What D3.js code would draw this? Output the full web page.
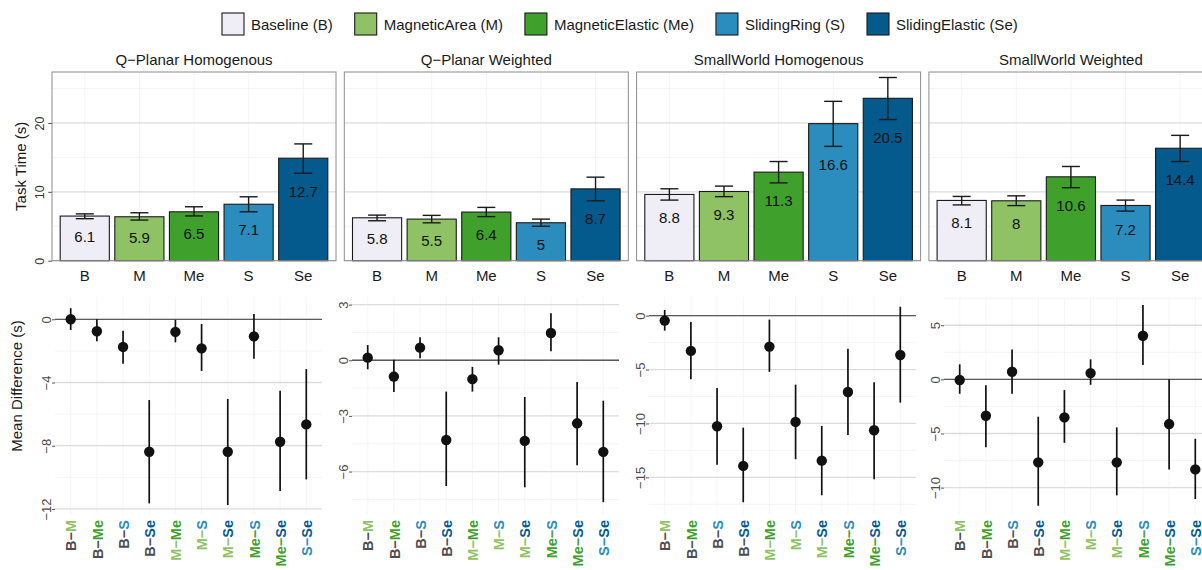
<!DOCTYPE html>
<html>
<head>
<meta charset="utf-8">
<script src="https://cdn.jsdelivr.net/npm/d3@7"></script>
<style>
  html, body { margin: 0; padding: 0; background: #fff; }
  svg { display: block; font-family: "Liberation Sans", Arial, Helvetica, sans-serif; }
</style>
</head>
<body>
<svg id="chart" width="1202" height="570"></svg>
<script>
// ---------------- DATA ----------------
const conditions = ["B", "M", "Me", "S", "Se"];
const conditionNames = ["Baseline (B)", "MagneticArea (M)", "MagneticElastic (Me)", "SlidingRing (S)", "SlidingElastic (Se)"];
const datasets = ["Q\u2212Planar Homogenous", "Q\u2212Planar Weighted", "SmallWorld Homogenous", "SmallWorld Weighted"];

// task time: mean (bar), lower CI (label), upper CI
const timeMean = [
  [6.48, 6.38, 7.10, 8.20, 14.88],
  [6.23, 6.04, 7.06, 5.51, 10.43],
  [9.62, 10.05, 12.86, 19.90, 23.58],
  [8.75, 8.70, 12.18, 8.02, 16.33]
];
const timeLow = [
  [6.1, 5.9, 6.5, 7.1, 12.7],
  [5.8, 5.5, 6.4, 5.0, 8.7],
  [8.8, 9.3, 11.3, 16.6, 20.5],
  [8.1, 8.0, 10.6, 7.2, 14.4]
];
const timeHigh = [
  [6.80, 6.96, 7.83, 9.28, 16.96],
  [6.62, 6.58, 7.74, 6.04, 12.13],
  [10.44, 10.83, 14.40, 23.14, 26.60],
  [9.33, 9.42, 13.68, 8.80, 18.20]
];
const timeTicks = [0, 10, 20];
const timeDomain = [0, 27.4];

// pairwise mean differences
const pairs = [["B","M"],["B","Me"],["B","S"],["B","Se"],["M","Me"],["M","S"],["M","Se"],["Me","S"],["Me","Se"],["S","Se"]];
const diffMean = [
  [0.00, -0.76, -1.75, -8.38, -0.80, -1.84, -8.38, -1.08, -7.75, -6.65],
  [0.14, -0.88, 0.68, -4.30, -1.02, 0.54, -4.35, 1.47, -3.40, -4.94],
  [-0.46, -3.27, -10.26, -13.94, -2.87, -9.86, -13.45, -7.08, -10.63, -3.65],
  [-0.06, -3.36, 0.70, -7.67, -3.51, 0.58, -7.67, 4.03, -4.13, -8.32]
];
const diffLow = [
  [-0.68, -1.39, -2.81, -11.65, -1.46, -3.27, -11.75, -2.49, -10.87, -10.13],
  [-0.49, -1.71, 0.11, -6.78, -1.69, -0.24, -6.85, 0.48, -5.66, -7.65],
  [-1.39, -5.90, -13.82, -17.31, -5.22, -13.32, -16.66, -11.07, -15.18, -8.07],
  [-1.33, -6.28, -1.33, -11.68, -5.86, -0.50, -10.72, 1.32, -8.32, -11.06]
];
const diffHigh = [
  [0.70, 0.00, -0.72, -5.11, -0.04, -0.30, -5.04, 0.34, -4.52, -3.15],
  [0.82, 0.02, 1.24, -1.69, -0.36, 1.24, -1.98, 2.53, -1.17, -2.18],
  [0.53, -0.58, -6.71, -10.39, -0.37, -6.40, -10.23, -3.06, -6.18, 0.83],
  [1.39, -0.55, 2.77, -3.45, -0.99, 1.85, -4.44, 6.87, 0.00, -5.49]
];
const diffTicks = [[0, -4, -8, -12], [3, 0, -3, -6], [0, -5, -10, -15], [5, 0, -5, -10]];
const diffDomains = [[-12.32, 1.41], [-8.29, 3.41], [-18.4, 1.73], [-12.44, 7.61]];

// ---------------- STYLE ----------------
const palette = ["#efedf5", "#8fc265", "#3fa12b", "#2b8cbe", "#045a8d"];
const labelPalette = ["#4d4d4d", "#8fc265", "#3fa12b", "#2b8cbe", "#045a8d"];
const colorOf = c => palette[conditions.indexOf(c)];
const labelColorOf = c => labelPalette[conditions.indexOf(c)];
const fmtNum = v => (v < 0 ? "\u2212" : "") + String(Math.abs(v));
const fmtLabel = v => String(+v.toFixed(1));

const svg = d3.select("#chart");

// ---------------- LEGEND ----------------
const legend = svg.append("g");
let lx = 222;
conditionNames.forEach((name, i) => {
  legend.append("rect").attr("x", lx).attr("y", 13).attr("width", 22).attr("height", 22)
    .attr("fill", palette[i]).attr("stroke", "#1a1a1a").attr("stroke-width", 1.1);
  const t = legend.append("text").attr("x", lx + 29).attr("y", 29.5).attr("font-size", 15)
    .attr("fill", "#1a1a1a").text(name);
  lx += 29 + t.node().getComputedTextLength() + 22;
});

// ---------------- TOP ROW: task time ----------------
const topY0 = 260.7, topY1 = 72, topW = 284, topStep = 292.3, topLeft0 = 52;
datasets.forEach((ds, p) => {
  const left = topLeft0 + p * topStep, right = left + topW;
  const g = svg.append("g");
  const x = d3.scaleBand().domain(conditions).range([left, right]).paddingInner(0.1).paddingOuter(0.15);
  const y = d3.scaleLinear().domain(timeDomain).range([topY0, topY1]);

  // grid
  const minor = [5, 15, 25];
  g.selectAll(".vminor").data(conditions).join("line")
    .attr("x1", d => x(d) + x.bandwidth() / 2).attr("x2", d => x(d) + x.bandwidth() / 2)
    .attr("y1", topY1).attr("y2", topY0).attr("stroke", "#f1f1f1").attr("stroke-width", 0.8);
  g.selectAll(".hminor").data(minor.filter(v => v <= timeDomain[1])).join("line")
    .attr("x1", left).attr("x2", right).attr("y1", d => y(d)).attr("y2", d => y(d))
    .attr("stroke", "#f1f1f1").attr("stroke-width", 0.8);
  g.selectAll(".hmajor").data(timeTicks).join("line")
    .attr("x1", left).attr("x2", right).attr("y1", d => y(d)).attr("y2", d => y(d))
    .attr("stroke", "#dcdcdc").attr("stroke-width", 1.3);

  // bars
  const rows = conditions.map((c, i) => ({ c, mean: timeMean[p][i], lo: timeLow[p][i], hi: timeHigh[p][i] }));
  g.selectAll(".bar").data(rows).join("rect")
    .attr("x", d => x(d.c)).attr("width", x.bandwidth())
    .attr("y", d => y(d.mean)).attr("height", d => y(0) - y(d.mean))
    .attr("fill", d => colorOf(d.c)).attr("stroke", "#1a1a1a").attr("stroke-width", 1.1);

  // error bars
  const cap = x.step() * 0.33;
  rows.forEach(d => {
    const cx = x(d.c) + x.bandwidth() / 2;
    g.append("line").attr("x1", cx).attr("x2", cx).attr("y1", y(d.hi)).attr("y2", y(d.lo))
      .attr("stroke", "#1a1a1a").attr("stroke-width", 1.4);
    [d.hi, d.lo].forEach(v => g.append("line").attr("x1", cx - cap / 2).attr("x2", cx + cap / 2)
      .attr("y1", y(v)).attr("y2", y(v)).attr("stroke", "#1a1a1a").attr("stroke-width", 1.4));
  });

  // labels
  g.selectAll(".lab").data(rows).join("text")
    .attr("x", d => x(d.c) + x.bandwidth() / 2).attr("y", d => y(d.lo) + 23.4)
    .attr("text-anchor", "middle").attr("font-size", 15).attr("fill", "#111")
    .text(d => fmtLabel(d.lo));

  // border
  g.append("rect").attr("x", left).attr("y", topY1).attr("width", topW).attr("height", topY0 - topY1)
    .attr("fill", "none").attr("stroke", "#8c8c8c").attr("stroke-width", 1);

  // title
  g.append("text").attr("x", (left + right) / 2).attr("y", 64.5).attr("text-anchor", "middle")
    .attr("font-size", 15).attr("fill", "#1a1a1a").text(ds);

  // x axis
  const xa = g.append("g").attr("transform", `translate(0,${topY0})`)
    .call(d3.axisBottom(x).tickSize(0).tickPadding(0));
  xa.select(".domain").remove();
  xa.selectAll("text").attr("y", 0).attr("dy", 0).attr("transform", "translate(0,20.5)")
    .attr("font-size", 15).attr("fill", "#1a1a1a").attr("font-family", null);

  // y axis (first panel only)
  if (p === 0) {
    const ya = g.append("g").attr("transform", `translate(${left},0)`)
      .call(d3.axisLeft(y).tickValues(timeTicks).tickSize(3.8).tickFormat(fmtNum));
    ya.select(".domain").remove();
    ya.selectAll("line").attr("stroke", "#555").attr("stroke-width", 1);
    ya.selectAll("text").attr("transform", "rotate(-90)").attr("x", 0).attr("y", -8.5).attr("dy", 0)
      .attr("text-anchor", "middle").attr("font-size", 12.5).attr("fill", "#333").attr("font-family", null);
    g.append("text").attr("transform", `translate(26,${(topY0 + topY1) / 2}) rotate(-90)`)
      .attr("text-anchor", "middle").attr("font-size", 15).attr("fill", "#1a1a1a").text("Task Time (s)");
  }
});

// ---------------- BOTTOM ROW: mean differences ----------------
const botY0 = 514, botY1 = 297, botLefts = [55, 352, 649, 944], botW = 267;
datasets.forEach((ds, p) => {
  const left = botLefts[p], right = left + botW;
  const g = svg.append("g");
  const keys = pairs.map(d => d.join("-"));
  const x = d3.scalePoint().domain(keys).range([left, right]).padding(0.6);
  const y = d3.scaleLinear().domain(diffDomains[p]).range([botY0, botY1]);
  const ticks = diffTicks[p];
  const stepT = Math.abs(ticks[1] - ticks[0]);
  const tmin = d3.min(ticks), tmax = d3.max(ticks);
  const minor = d3.range(tmin - stepT / 2, tmax + stepT, stepT)
    .filter(v => v >= diffDomains[p][0] && v <= diffDomains[p][1]);

  g.selectAll(".vminor").data(keys).join("line")
    .attr("x1", d => x(d)).attr("x2", d => x(d)).attr("y1", botY1).attr("y2", botY0)
    .attr("stroke", "#f1f1f1").attr("stroke-width", 0.8);
  g.selectAll(".hminor").data(minor).join("line")
    .attr("x1", left).attr("x2", right).attr("y1", d => y(d)).attr("y2", d => y(d))
    .attr("stroke", "#f1f1f1").attr("stroke-width", 0.8);
  g.selectAll(".hmajor").data(ticks).join("line")
    .attr("x1", left).attr("x2", right).attr("y1", d => y(d)).attr("y2", d => y(d))
    .attr("stroke", "#dcdcdc").attr("stroke-width", 1.3);

  // zero line
  g.append("line").attr("x1", left).attr("x2", right).attr("y1", y(0)).attr("y2", y(0))
    .attr("stroke", "#5a5a5a").attr("stroke-width", 1.3);

  const rows = keys.map((k, i) => ({ k, m: diffMean[p][i], lo: diffLow[p][i], hi: diffHigh[p][i] }));
  g.selectAll(".ci").data(rows).join("line")
    .attr("x1", d => x(d.k)).attr("x2", d => x(d.k)).attr("y1", d => y(d.hi)).attr("y2", d => y(d.lo))
    .attr("stroke", "#111").attr("stroke-width", 1.7);
  g.selectAll(".pt").data(rows).join("circle")
    .attr("cx", d => x(d.k)).attr("cy", d => y(d.m)).attr("r", 5.2).attr("fill", "#111");

  // y axis
  const ya = g.append("g").attr("transform", `translate(${left},0)`)
    .call(d3.axisLeft(y).tickValues(ticks).tickSize(3).tickFormat(fmtNum));
  ya.select(".domain").remove();
  ya.selectAll("line").attr("stroke", "#555").attr("stroke-width", 1);
  ya.selectAll("text").attr("transform", "rotate(-90)").attr("x", 0).attr("y", -4.5).attr("dy", 0)
    .attr("text-anchor", "middle").attr("font-size", 13).attr("fill", "#4d4d4d").attr("font-family", null);

  // x axis with two-coloured rotated labels
  const xa = g.append("g").attr("transform", `translate(0,${botY0})`)
    .call(d3.axisBottom(x).tickSize(0).tickPadding(0));
  xa.select(".domain").remove();
  xa.selectAll("text").each(function(k) {
    const [a, b] = k.split("-");
    const t = d3.select(this);
    t.text(null).attr("transform", "rotate(-90)").attr("x", -6).attr("y", 0).attr("dy", "0.36em")
      .attr("text-anchor", "end").attr("font-size", 14.5).attr("font-weight", "bold").attr("font-family", null);
    t.append("tspan").attr("fill", labelColorOf(a)).text(a + "\u2212");
    t.append("tspan").attr("fill", labelColorOf(b)).text(b);
  });

  if (p === 0) {
    g.append("text").attr("transform", `translate(22,386) rotate(-90)`)
      .attr("text-anchor", "middle").attr("font-size", 15).attr("fill", "#1a1a1a").text("Mean Difference (s)");
  }
});
</script>
</body>
</html>
